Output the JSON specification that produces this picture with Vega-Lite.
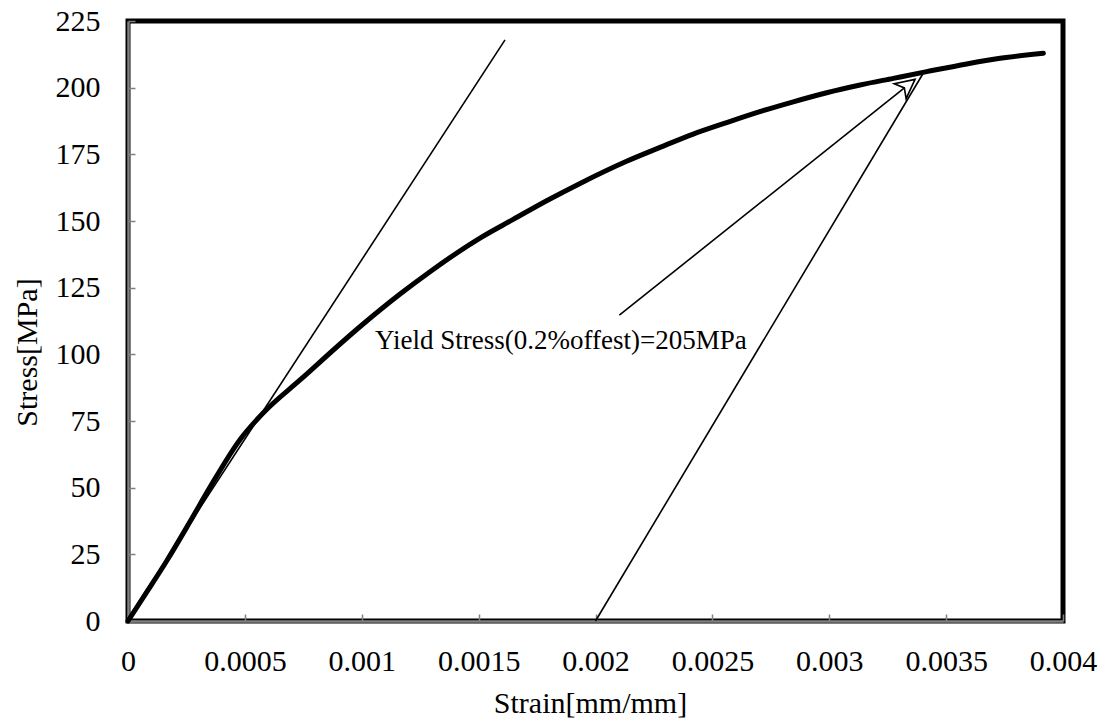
{
  "$schema": "https://vega.github.io/schema/vega-lite/v6.json",
  "width": 935,
  "height": 600,
  "autosize": {"type": "none"},
  "padding": {"left": 128, "top": 21, "right": 51, "bottom": 106},
  "background": "white",
  "config": {
    "view": {"stroke": "black", "strokeWidth": 5},
    "font": "Liberation Serif",
    "axis": {
      "grid": false,
      "labelFont": "Liberation Serif",
      "labelFontSize": 30,
      "labelColor": "black",
      "labelFlush": false,
      "labelOverlap": false,
      "labelBound": false,
      "titleFont": "Liberation Serif",
      "titleFontSize": 30,
      "titleFontWeight": "normal",
      "titleColor": "black",
      "domainColor": "#808080",
      "domainWidth": 2.5,
      "tickColor": "#808080",
      "tickWidth": 1.5,
      "tickSize": -7
    }
  },
  "datasets": {
    "curve": [
      {"strain": 0, "stress": 0},
      {"strain": 0.00008, "stress": 10.8},
      {"strain": 0.000166, "stress": 22.6},
      {"strain": 0.000265, "stress": 37.2},
      {"strain": 0.000351, "stress": 50.2},
      {"strain": 0.000479, "stress": 68.0},
      {"strain": 0.000578, "stress": 78.0},
      {"strain": 0.000736, "stress": 90.4},
      {"strain": 0.001001, "stress": 111.0},
      {"strain": 0.001164, "stress": 122.6},
      {"strain": 0.001292, "stress": 131.0},
      {"strain": 0.001506, "stress": 143.6},
      {"strain": 0.001648, "stress": 150.6},
      {"strain": 0.001791, "stress": 157.6},
      {"strain": 0.001934, "stress": 164.1},
      {"strain": 0.002133, "stress": 172.4},
      {"strain": 0.002276, "stress": 177.6},
      {"strain": 0.002418, "stress": 182.6},
      {"strain": 0.002561, "stress": 186.9},
      {"strain": 0.002703, "stress": 191.0},
      {"strain": 0.002846, "stress": 194.7},
      {"strain": 0.002989, "stress": 198.1},
      {"strain": 0.003132, "stress": 201.0},
      {"strain": 0.003274, "stress": 203.5},
      {"strain": 0.003417, "stress": 206.0},
      {"strain": 0.003588, "stress": 208.9},
      {"strain": 0.003731, "stress": 211.0},
      {"strain": 0.003916, "stress": 212.9}
    ],
    "lines": [
      {"name": "tangent", "x1": 0, "y1": 1, "x2": 0.001613, "y2": 217.9},
      {"name": "offset", "x1": 0.002, "y1": 0, "x2": 0.003402, "y2": 205.4},
      {"name": "arrow", "x1": 0.002102, "y1": 114.7, "x2": 0.003367, "y2": 203.1}
    ],
    "head": [
      {"strain": 0.003367, "stress": 203.1}
    ],
    "label": [
      {"strain": 0.001057, "stress": 105, "text": "Yield Stress(0.2%offest)=205MPa"}
    ]
  },
  "layer": [
    {
      "data": {"name": "curve"},
      "mark": {"type": "line", "color": "black", "strokeWidth": 5, "strokeCap": "round", "strokeJoin": "round", "interpolate": "monotone"},
      "encoding": {
        "x": {
          "field": "strain", "type": "quantitative",
          "scale": {"domain": [0, 0.004], "nice": false, "zero": false},
          "axis": {
            "values": [0, 0.0005, 0.001, 0.0015, 0.002, 0.0025, 0.003, 0.0035, 0.004],
            "format": "~g",
            "title": "Strain[mm/mm]",
            "labelPadding": 32,
            "titleX": 462,
            "titleY": 82,
            "titleBaseline": "middle"
          }
        },
        "y": {
          "field": "stress", "type": "quantitative",
          "scale": {"domain": [0, 225], "nice": false},
          "axis": {
            "values": [0, 25, 50, 75, 100, 125, 150, 175, 200, 225],
            "title": "Stress[MPa]",
            "labelPadding": 35,
            "titleX": -101,
            "titleY": 331,
            "titleBaseline": "middle"
          }
        }
      }
    },
    {
      "data": {"name": "lines"},
      "mark": {"type": "rule", "color": "black", "strokeWidth": 1.6},
      "encoding": {
        "x": {"field": "x1", "type": "quantitative"},
        "y": {"field": "y1", "type": "quantitative"},
        "x2": {"field": "x2"},
        "y2": {"field": "y2"}
      }
    },
    {
      "data": {"name": "head"},
      "mark": {
        "type": "point",
        "shape": "M0,0 L-0.5,1 L0,0.72 L0.5,1 Z",
        "size": 1444,
        "angle": 51.4,
        "fill": "white",
        "fillOpacity": 1,
        "stroke": "black",
        "strokeWidth": 1.6,
        "opacity": 1,
        "filled": true
      },
      "encoding": {
        "x": {"field": "strain", "type": "quantitative"},
        "y": {"field": "stress", "type": "quantitative"}
      }
    },
    {
      "data": {"name": "label"},
      "mark": {"type": "text", "align": "left", "baseline": "middle", "fontSize": 27, "font": "Liberation Serif", "color": "black"},
      "encoding": {
        "x": {"field": "strain", "type": "quantitative"},
        "y": {"field": "stress", "type": "quantitative"},
        "text": {"field": "text"}
      }
    }
  ]
}
